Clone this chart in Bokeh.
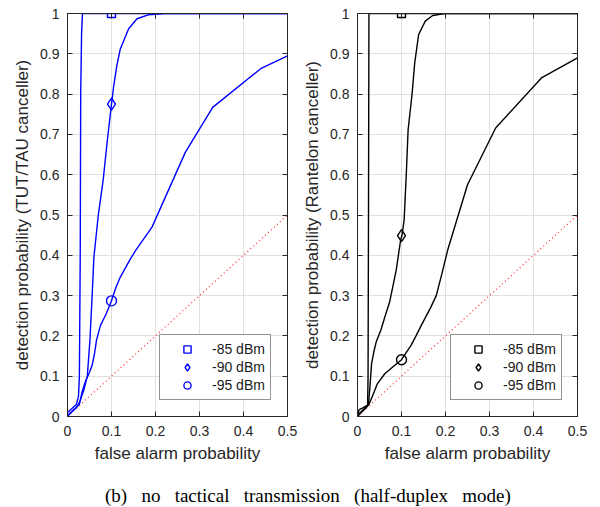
from bokeh.plotting import figure
from bokeh.models import (FixedTicker, LinearAxis, Legend, LegendItem, Div, Range1d,
                          CustomLabelingPolicy)
from bokeh.layouts import row, column
from bokeh.embed import file_html
from bokeh.resources import INLINE

# ---------------- data ----------------
x_ticks = [0, 0.1, 0.2, 0.3, 0.4, 0.5]
x_tick_labels = ["0", "0.1", "0.2", "0.3", "0.4", "0.5"]
y_ticks = [0, 0.1, 0.2, 0.3, 0.4, 0.5, 0.6, 0.7, 0.8, 0.9, 1]
y_tick_labels = ["0", "0.1", "0.2", "0.3", "0.4", "0.5", "0.6", "0.7", "0.8", "0.9", "1"]

series_labels = ["-85 dBm", "-90 dBm", "-95 dBm"]
series_markers = ["square", "diamond", "circle"]
marker_sizes = [8, 12, 10]
marker_x = [0.1, 0.1, 0.1]

diag_x = [0, 0.5]
diag_y = [0, 0.5]

# TUT/TAU canceller
tut_85_x = [0.0, 0.005, 0.02, 0.025, 0.027, 0.029, 0.030, 0.032, 0.034, 0.5]
tut_85_y = [0.01, 0.015, 0.03, 0.05, 0.10, 0.41, 0.80, 0.95, 1.0, 1.0]
tut_90_x = [0.0, 0.01, 0.02, 0.027, 0.037, 0.045, 0.051, 0.056, 0.060, 0.070, 0.081,
            0.090, 0.100, 0.105, 0.112, 0.120, 0.139, 0.158, 0.185, 0.220, 0.5]
tut_90_y = [0.003, 0.012, 0.022, 0.035, 0.065, 0.10, 0.19, 0.30, 0.395, 0.50, 0.586,
            0.68, 0.775, 0.82, 0.87, 0.912, 0.962, 0.987, 0.997, 1.0, 1.0]
tut_95_x = [0.0, 0.012, 0.027, 0.033, 0.040, 0.050, 0.056, 0.062, 0.066, 0.075, 0.088,
            0.100, 0.110, 0.120, 0.143, 0.155, 0.192, 0.268, 0.330, 0.439, 0.5]
tut_95_y = [0.0, 0.015, 0.030, 0.06, 0.085, 0.11, 0.127, 0.16, 0.19, 0.226, 0.255,
            0.287, 0.32, 0.346, 0.391, 0.412, 0.47, 0.656, 0.767, 0.863, 0.895]
tut_marker_y = [1.0, 0.775, 0.287]

# Rantelon canceller
ran_85_x = [0.0, 0.004, 0.013, 0.023, 0.024, 0.025, 0.026, 0.5]
ran_85_y = [0.005, 0.017, 0.022, 0.028, 0.10, 0.50, 1.0, 1.0]
ran_90_x = [0.0, 0.008, 0.018, 0.025, 0.028, 0.032, 0.037, 0.043, 0.053, 0.063, 0.073,
            0.088, 0.098, 0.101, 0.106, 0.111, 0.115, 0.124, 0.130, 0.139, 0.154,
            0.171, 0.198, 0.5]
ran_90_y = [0.003, 0.012, 0.022, 0.030, 0.07, 0.131, 0.16, 0.187, 0.214, 0.25, 0.284,
            0.363, 0.438, 0.449, 0.488, 0.604, 0.711, 0.80, 0.877, 0.948, 0.981,
            0.995, 1.0, 1.0]
ran_95_x = [0.0, 0.01, 0.02, 0.026, 0.036, 0.045, 0.062, 0.080, 0.100, 0.122, 0.133,
            0.145, 0.167, 0.179, 0.192, 0.205, 0.250, 0.314, 0.418, 0.5]
ran_95_y = [0.0, 0.012, 0.022, 0.030, 0.056, 0.081, 0.106, 0.123, 0.141, 0.177, 0.20,
            0.226, 0.272, 0.30, 0.355, 0.413, 0.575, 0.716, 0.840, 0.890]
ran_marker_y = [1.0, 0.449, 0.141]

caption = "(b) no tactical transmission (half-duplex mode)"

AX = "#262626"
FONT = "Liberation Sans"

NO_LABELS = "for (let i = 0; i < indices.size; i++) { indices.unset(i) }\nreturn indices"


def style_axis(ax, label_size="14px"):
    ax.major_tick_in = 5
    ax.major_tick_out = 0
    ax.minor_tick_in = 0
    ax.minor_tick_out = 0
    ax.axis_line_color = AX
    ax.major_tick_line_color = AX
    ax.major_label_text_font = FONT
    ax.major_label_text_font_size = label_size
    ax.major_label_text_color = AX
    ax.axis_label_text_font = FONT
    ax.axis_label_text_font_size = "17px"
    ax.axis_label_text_font_style = "normal"
    ax.axis_label_text_color = AX


def make_fig(color, ylabel, curves, marker_y, bl, br, legend_loc):
    p = figure(width=300, height=470,
               x_range=Range1d(0, 0.5), y_range=Range1d(0, 1),
               output_backend="svg", toolbar_location=None,
               min_border_left=bl, min_border_right=br,
               min_border_top=13, min_border_bottom=54,
               x_axis_label="false alarm probability", y_axis_label=ylabel)
    p.background_fill_color = "white"
    p.border_fill_color = "white"
    p.outline_line_color = AX
    p.outline_line_width = 1

    xt = FixedTicker(ticks=x_ticks)
    yt = FixedTicker(ticks=y_ticks)
    xa = p.below[0]
    ya = p.left[0]
    xa.ticker = xt
    ya.ticker = yt
    xa.major_label_overrides = dict(zip(x_ticks, x_tick_labels))
    ya.major_label_overrides = dict(zip(y_ticks, y_tick_labels))
    style_axis(xa)
    style_axis(ya)
    xa.major_label_standoff = 9
    xa.axis_label_standoff = 5
    ya.major_label_standoff = 8
    ya.axis_label_standoff = 5

    right = LinearAxis(ticker=yt, major_label_standoff=0,
                       major_label_policy=CustomLabelingPolicy(code=NO_LABELS))
    above = LinearAxis(ticker=xt, major_label_standoff=0,
                       major_label_policy=CustomLabelingPolicy(code=NO_LABELS))
    style_axis(right, "1px")
    style_axis(above, "1px")
    p.add_layout(right, "right")
    p.add_layout(above, "above")

    p.xgrid.ticker = xt
    p.ygrid.ticker = yt
    p.grid.grid_line_color = "#e0e0e0"
    p.grid.grid_line_width = 1

    p.line(diag_x, diag_y, line_color="#ff0000", line_alpha=0.8, line_width=1.3,
           line_dash="1 3")

    for cx, cy in curves:
        p.line(cx, cy, line_color=color, line_width=1.4)

    items = []
    for i in range(3):
        r = p.scatter([marker_x[i]], [marker_y[i]], marker=series_markers[i],
                      size=marker_sizes[i], fill_color=None, line_color=color,
                      line_width=1.4)
        items.append(LegendItem(label=series_labels[i], renderers=[r]))

    legend = Legend(items=items, location=legend_loc, margin=0, padding=5, spacing=0,
                    glyph_width=44, glyph_height=18, label_height=18, label_standoff=3,
                    label_text_font=FONT, label_text_font_size="14px",
                    label_text_color="#1a1a1a",
                    border_line_color=AX, border_line_width=1,
                    background_fill_color="white", background_fill_alpha=1.0)
    p.add_layout(legend)
    return p


p1 = make_fig("#0000ff", "detection probability (TUT/TAU canceller)",
              [(tut_85_x, tut_85_y), (tut_90_x, tut_90_y), (tut_95_x, tut_95_y)],
              tut_marker_y, 67, 13, (92, 16))
p2 = make_fig("#000000", "detection probability (Rantelon canceller)",
              [(ran_85_x, ran_85_y), (ran_90_x, ran_90_y), (ran_95_x, ran_95_y)],
              ran_marker_y, 56, 23, (93, 16))

cap = Div(text='<div style="font-family: \'Liberation Serif\'; font-size: 19px; '
               'line-height: 19px; word-spacing: 9.5px; white-space: nowrap; '
               'padding-left: 105px; padding-top: 16px; color: #000;">' + caption + '</div>',
          width=600, height=37, margin=0, styles={"overflow": "visible"})

layout = column(row(p1, p2, spacing=0), cap, spacing=0)

open("out.html", "w").write(file_html(layout, INLINE))
